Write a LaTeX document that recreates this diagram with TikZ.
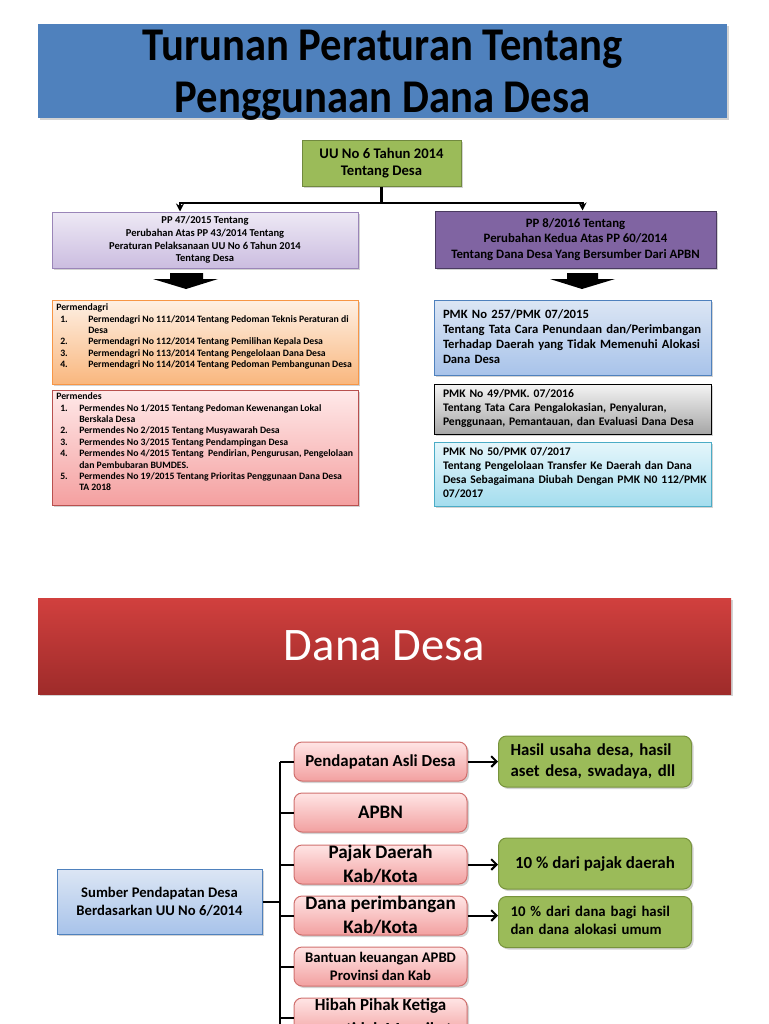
\documentclass[tikz,border=0pt]{standalone}
\usepackage{fontspec}
\setmainfont{Carlito}
\usetikzlibrary{shadows,arrows.meta,calc}
\definecolor{titleblue}{HTML}{4F81BD}
\definecolor{uugreen}{HTML}{9BBB59}
\definecolor{uuborder}{HTML}{71893F}
\definecolor{lavtop}{HTML}{EEE9F5}
\definecolor{lavbot}{HTML}{CBBDE0}
\definecolor{lavborder}{HTML}{9A85B8}
\definecolor{ppurple}{HTML}{8064A2}
\definecolor{ppborder}{HTML}{4A3A60}
\definecolor{ortop}{HTML}{FEF0E4}
\definecolor{orbot}{HTML}{F9B77E}
\definecolor{orborder}{HTML}{F79646}
\definecolor{pktop}{HTML}{FFE9E9}
\definecolor{pkbot}{HTML}{F4A0A0}
\definecolor{pkborder}{HTML}{B8504E}
\definecolor{bltop}{HTML}{DCE6F4}
\definecolor{blbot}{HTML}{A8C3EA}
\definecolor{blborder}{HTML}{4F81BD}
\definecolor{grtop}{HTML}{F4F4F4}
\definecolor{grbot}{HTML}{A6A6A6}
\definecolor{cytop}{HTML}{E5F6FB}
\definecolor{cybot}{HTML}{A4DDEE}
\definecolor{cyborder}{HTML}{4BACC6}
\definecolor{redtop}{HTML}{D1403E}
\definecolor{redbot}{HTML}{9E2B2A}
\definecolor{rosetop}{HTML}{FFE5E5}
\definecolor{rosebot}{HTML}{F2A0A0}
\definecolor{roseborder}{HTML}{D0706E}
\definecolor{gborder}{HTML}{77933C}
\begin{document}
\begin{tikzpicture}[x=0.75pt,y=-0.75pt,
  shad/.style={drop shadow={opacity=0.35,shadow xshift=1.5pt,shadow yshift=-1.5pt}},
  box/.style={draw,line width=0.75pt,inner sep=0pt,align=center,shad},
  conn/.style={line width=1.5pt,draw=black},
  pinkbox/.style={box,rounded corners=6pt,top color=rosetop,bottom color=rosebot,draw=roseborder,minimum width=129.75pt,minimum height=29.25pt},
  greenbox/.style={box,rounded corners=6pt,fill=uugreen,draw=gborder,minimum width=144.75pt,minimum height=38.25pt},
  pmkbox/.style={box,minimum width=207.75pt,inner xsep=6.75pt,text width=194.25pt,align=left}
]
\useasboundingbox (0,0) rectangle (768,1024);
\clip (0,0) rectangle (768,1024);

% ---------- title
\node[shad,fill=titleblue,minimum width=516.75pt,minimum height=70.5pt,inner sep=0pt] (title) at (382.5,71) {};
\node[inner sep=0pt,font=\fontsize{32}{36}\selectfont\bfseries] (titletext) at (382.5,76)
  {\scalebox{1}[1.1]{\begin{tabular}{@{}c@{}}Turunan Peraturan Tentang\\Penggunaan Dana Desa\end{tabular}}};

% ---------- top tree
\node[box,fill=uugreen,draw=uuborder,minimum width=119.25pt,minimum height=34.5pt,
  font=\fontsize{11}{13}\selectfont\bfseries] (uu) at (381.5,163) {UU No 6 Tahun 2014\\Tentang Desa};

\node[box,top color=lavtop,bottom color=lavbot,draw=lavborder,minimum width=229.5pt,minimum height=42pt,
  font=\fontsize{7.9}{9.5}\selectfont\bfseries] (pp47) at (205,240)
  {PP 47/2015 Tentang\\Perubahan Atas PP 43/2014 Tentang\\Peraturan Pelaksanaan UU No 6 Tahun 2014\\Tentang Desa};

\node[box,fill=ppurple,draw=ppborder,minimum width=210.75pt,minimum height=42.75pt,
  font=\fontsize{9.6}{11.6}\selectfont\bfseries] (pp8) at (575.5,239.5)
  {PP 8/2016 Tentang\\Perubahan Kedua Atas PP 60/2014\\Tentang Dana Desa Yang Bersumber Dari APBN};

\coordinate (jn) at (381.5,203);
\draw[line width=2.5pt] (uu.south) -- (jn);
\draw[conn,-{Stealth[length=6pt,width=6pt]}] (jn) -| ($(pp47.north)+(-25,0)$);
\draw[conn,-{Stealth[length=6pt,width=6pt]}] (jn) -| ($(pp8.north)+(7,0)$);

% block arrows
\fill (170,273) -- (203,273) -- (203,279) -- (218,279) -- (186,289) -- (153,279) -- (170,279) -- cycle;
\fill (567,273) -- (598,273) -- (598,279) -- (615,279) -- (582,289) -- (550,279) -- (567,279) -- cycle;

% ---------- left lists
\node[box,top color=ortop,bottom color=orbot,draw=orborder,minimum width=229.5pt,minimum height=63pt] (pd) at (205,342) {};
\node[anchor=north west,inner sep=0pt,align=left,font=\fontsize{7.3}{8.5}\selectfont\bfseries] (pdt) at (60,302.5)
{\begin{tabular}{@{}p{21pt}@{}l@{}}
\multicolumn{2}{@{\hspace{-3pt}}l@{}}{Permendagri}\\
1.&Permendagri No 111/2014 Tentang Pedoman Teknis Peraturan di\\
&Desa\\
2.&Permendagri No 112/2014 Tentang Pemilihan Kepala Desa\\
3.&Permendagri No 113/2014 Tentang Pengelolaan Dana Desa\\
4.&Permendagri No 114/2014 Tentang Pedoman Pembangunan Desa
\end{tabular}};

\node[box,top color=pktop,bottom color=pkbot,draw=pkborder,minimum width=229.5pt,minimum height=86.25pt] (ps) at (205,447.5) {};
\node[anchor=north west,inner sep=0pt,align=left,font=\fontsize{7.3}{8.55}\selectfont\bfseries] (pst) at (60,391.5)
{\begin{tabular}{@{}p{14.25pt}@{}l@{}}
\multicolumn{2}{@{\hspace{-3pt}}l@{}}{Permendes}\\
1.&Permendes No 1/2015 Tentang Pedoman Kewenangan Lokal\\
&Berskala Desa\\
2.&Permendes No 2/2015 Tentang Musyawarah Desa\\
3.&Permendes No 3/2015 Tentang Pendampingan Desa\\
4.&Permendes No 4/2015 Tentang \ Pendirian, Pengurusan, Pengelolaan\\
&dan Pembubaran BUMDES.\\
5.&Permendes No 19/2015 Tentang Prioritas Penggunaan Dana Desa\\
&TA 2018
\end{tabular}};

% ---------- right PMK boxes
\node[pmkbox,top color=bltop,bottom color=blbot,draw=blborder,minimum height=56.25pt,
  font=\fontsize{9.5}{11.25}\selectfont\bfseries] (pmk1) at (572.5,337.5)
{\begin{tabular}{@{}l@{}}PMK No 257/PMK 07/2015\\Tentang Tata Cara Penundaan dan/Perimbangan\\Terhadap Daerah yang Tidak Memenuhi Alokasi\\Dana Desa\end{tabular}};

\node[pmkbox,top color=grtop,bottom color=grbot,draw=black,minimum height=37.5pt,
  font=\fontsize{8.7}{10.5}\selectfont\bfseries] (pmk2) at (572.5,409)
{\begin{tabular}{@{}l@{}}PMK No 49/PMK. 07/2016\\Tentang Tata Cara Pengalokasian, Penyaluran,\\Penggunaan, Pemantauan, dan Evaluasi Dana Desa\end{tabular}};

\node[pmkbox,top color=cytop,bottom color=cybot,draw=cyborder,minimum height=48pt,
  font=\fontsize{8.7}{10.5}\selectfont\bfseries] (pmk3) at (572.5,474)
{\begin{tabular}{@{}l@{}}PMK No 50/PMK 07/2017\\Tentang Pengelolaan Transfer Ke Daerah dan Dana\\Desa Sebagaimana Diubah Dengan PMK N0 112/PMK\\07/2017\end{tabular}};

% ---------- Dana Desa banner
\node[shad,top color=redtop,bottom color=redbot,minimum width=519.75pt,minimum height=72pt,inner sep=0pt,
  text=white,font=\fontsize{35}{40}\selectfont] (dana) at (384.5,646) {Dana Desa};

% ---------- bottom tree
\node[box,top color=bltop,bottom color=blbot,draw=blborder,minimum width=153.75pt,minimum height=48.75pt,
  font=\fontsize{11}{13.5}\selectfont\bfseries] (src) at (159.5,901.5) {Sumber Pendapatan Desa\\Berdasarkan UU No 6/2014};

\node[pinkbox,font=\fontsize{12.6}{15}\selectfont\bfseries] (p1) at (380.5,761.5) {Pendapatan Asli Desa};
\node[pinkbox,font=\fontsize{14.3}{18}\selectfont\bfseries] (p2) at (380.5,812.5) {APBN};
\node[pinkbox,font=\fontsize{14.3}{18}\selectfont\bfseries] (p3) at (380.5,864.5) {Pajak Daerah\\Kab/Kota};
\node[pinkbox,font=\fontsize{14.3}{18}\selectfont\bfseries] (p4) at (380.5,915.5) {Dana perimbangan\\Kab/Kota};
\node[pinkbox,font=\fontsize{11}{13.5}\selectfont\bfseries] (p5) at (380.5,966.5) {Bantuan keuangan APBD\\Provinsi dan Kab};
\node[pinkbox,font=\fontsize{12.7}{18}\selectfont\bfseries] (p6) at (380.5,1017.5) {Hibah Pihak Ketiga\\yang tidak Mengikat};

\node[greenbox,inner xsep=9pt,text width=126.75pt,align=left,font=\fontsize{12.6}{15.75}\selectfont\bfseries] (g1) at (595,761.5)
  {\begin{tabular}{@{}l@{}}Hasil usaha desa, hasil\\aset desa, swadaya, dll\end{tabular}};
\node[greenbox,font=\fontsize{12.7}{15}\selectfont\bfseries] (g2) at (595,863.5) {10 \% dari pajak daerah};
\node[greenbox,inner xsep=9pt,text width=126.75pt,align=left,font=\fontsize{11.1}{13.3}\selectfont\bfseries] (g3) at (595,922)
  {\begin{tabular}{@{}l@{}}10 \% dari dana bagi hasil\\dan dana alokasi umum\end{tabular}};

\coordinate (tk) at (280,0);
\draw[line width=1.8pt] (p1.west -| tk) -- ($(p6.west -| tk)+(0,40)$);
\foreach \p in {p1,p2,p3,p4,p5,p6}{\draw[conn] (\p.west) -- (\p.west -| tk);}
\draw[conn] (src.east) -- (src.east -| tk);

\draw[conn,-{Straight Barb[length=4pt,width=8pt]}] (p1.east) -- (g1.west);
\draw[conn,-{Straight Barb[length=4pt,width=8pt]}] (p3.east) -- (p3.east -| g2.west);
\draw[conn,-{Straight Barb[length=4pt,width=8pt]}] (p4.east) -- (p4.east -| g3.west);
\end{tikzpicture}
\end{document}
